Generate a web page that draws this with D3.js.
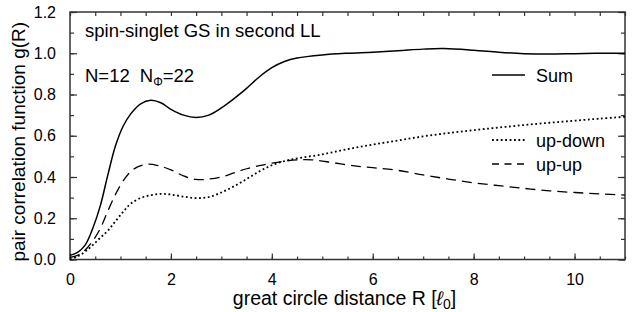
<!DOCTYPE html>
<html>
<head>
<meta charset="utf-8">
<script src="https://cdn.jsdelivr.net/npm/d3@7"></script>
<style>
  body { margin: 0; background: #fff; }
  svg { display: block; font-family: "Liberation Sans", Arial, sans-serif; }
</style>
</head>
<body>
<svg width="638" height="312"></svg>
<script>
// R values in units of l0, g(R)
const rSum = [0, 0.15, 0.3, 0.45, 0.6, 0.75, 0.9, 1.05, 1.2, 1.4, 1.6, 1.8, 2.0, 2.25, 2.5, 2.75, 3.0, 3.25, 3.5, 3.75, 4.0, 4.25, 4.5, 5.0, 5.5, 6.0, 6.5, 7.0, 7.4, 8.0, 8.5, 9.0, 9.5, 10, 10.5, 11];
const gSum = [0.02, 0.035, 0.07, 0.15, 0.26, 0.41, 0.55, 0.645, 0.705, 0.755, 0.772, 0.76, 0.728, 0.70, 0.689, 0.70, 0.735, 0.78, 0.83, 0.885, 0.93, 0.96, 0.977, 0.992, 1.0, 1.005, 1.012, 1.02, 1.023, 1.015, 1.005, 0.998, 0.996, 0.998, 1.0, 1.0];

const rUpUp = [0, 0.15, 0.3, 0.45, 0.6, 0.75, 0.9, 1.05, 1.2, 1.35, 1.55, 1.75, 2.0, 2.25, 2.5, 2.75, 3.0, 3.25, 3.5, 3.75, 4.0, 4.25, 4.5, 4.8, 5.2, 5.6, 6.0, 6.5, 7.0, 7.5, 8.0, 8.5, 9.0, 9.5, 10, 10.5, 11];
const gUpUp = [0.01, 0.02, 0.046, 0.09, 0.15, 0.235, 0.315, 0.38, 0.425, 0.45, 0.462, 0.455, 0.435, 0.405, 0.388, 0.39, 0.40, 0.42, 0.44, 0.455, 0.467, 0.477, 0.483, 0.483, 0.47, 0.455, 0.445, 0.432, 0.41, 0.39, 0.372, 0.358, 0.345, 0.333, 0.325, 0.318, 0.312];

const rUpDown = [0, 0.15, 0.3, 0.45, 0.6, 0.75, 0.9, 1.05, 1.2, 1.4, 1.6, 1.8, 2.0, 2.25, 2.5, 2.75, 3.0, 3.25, 3.5, 3.75, 4.0, 4.25, 4.5, 5.0, 5.5, 6.0, 6.5, 7.0, 7.5, 8.0, 8.5, 9.0, 9.5, 10, 10.5, 11];
const gUpDown = [0.0, 0.015, 0.038, 0.07, 0.105, 0.14, 0.185, 0.23, 0.27, 0.298, 0.312, 0.318, 0.315, 0.305, 0.298, 0.303, 0.325, 0.355, 0.39, 0.427, 0.457, 0.477, 0.49, 0.51, 0.535, 0.557, 0.577, 0.597, 0.613, 0.627, 0.64, 0.652, 0.663, 0.673, 0.683, 0.692];

const seriesNames = ["Sum", "up-down", "up-up"];
const xTicks = [0, 2, 4, 6, 8, 10];
const yTicks = [0.0, 0.2, 0.4, 0.6, 0.8, 1.0, 1.2];

const svg = d3.select("svg");
const margin = {top: 12, right: 13, bottom: 52.5, left: 70};
const width = 638 - margin.left - margin.right;
const height = 312 - margin.top - margin.bottom;
const g = svg.append("g").attr("transform", `translate(${margin.left},${margin.top})`);

const x = d3.scaleLinear().domain([0, 11]).range([0, width]);
const y = d3.scaleLinear().domain([0, 1.2]).range([height, 0]);

const minorX = d3.range(0, 11.01, 0.5);
const minorY = d3.range(0, 1.201, 0.1);
const axisColor = "#333";

// ticks point inward on all four sides
function drawAxis(gen, tr, labels) {
  const a = g.append("g").attr("transform", tr).call(gen);
  a.select(".domain").remove();
  a.selectAll("line").attr("stroke", axisColor).attr("stroke-width", 1.2);
  a.selectAll("text").attr("fill", "#000").style("font-size", "16px");
  if (!labels) a.selectAll("text").remove();
  return a;
}
drawAxis(d3.axisBottom(x).tickValues(minorX).tickSize(-3).tickFormat(""), `translate(0,${height})`, false);
drawAxis(d3.axisBottom(x).tickValues(xTicks).tickSize(-6).tickPadding(14).tickFormat(d3.format("d")), `translate(0,${height})`, true);
drawAxis(d3.axisTop(x).tickValues(minorX).tickSize(-4).tickFormat(""), "translate(0,0)", false);
drawAxis(d3.axisLeft(y).tickValues(minorY).tickSize(-4).tickFormat(""), "translate(0,0)", false);
drawAxis(d3.axisLeft(y).tickValues(yTicks).tickSize(-7).tickPadding(14).tickFormat(d3.format(".1f")), "translate(0,0)", true);
drawAxis(d3.axisRight(y).tickValues(minorY).tickSize(-4).tickFormat(""), `translate(${width},0)`, false);
drawAxis(d3.axisRight(y).tickValues(yTicks).tickSize(-7).tickFormat(""), `translate(${width},0)`, false);

g.append("rect")
  .attr("width", width).attr("height", height)
  .attr("fill", "none").attr("stroke", axisColor).attr("stroke-width", 1.5);

const line = d3.line()
  .x(d => x(d[0])).y(d => y(d[1]))
  .curve(d3.curveCatmullRom.alpha(0.5));

const styles = {
  "Sum": {dash: null, width: 1.5, legendDash: null},
  "up-down": {dash: "1.8,2.6", width: 1.8, legendDash: "1.8,2.6"},
  "up-up": {dash: "10,6", width: 1.3, legendDash: "7,5.5"}
};
const series = [
  {name: "Sum", r: rSum, v: gSum},
  {name: "up-down", r: rUpDown, v: gUpDown},
  {name: "up-up", r: rUpUp, v: gUpUp}
];

series.forEach(s => {
  g.append("path")
    .datum(d3.zip(s.r, s.v))
    .attr("fill", "none")
    .attr("stroke", "#000")
    .attr("stroke-width", styles[s.name].width)
    .attr("stroke-dasharray", styles[s.name].dash)
    .attr("d", line);
});

// legend
const legendY = [75, 140, 164];
seriesNames.forEach((name, i) => {
  const st = styles[name];
  svg.append("line")
    .attr("x1", 492).attr("x2", 525)
    .attr("y1", legendY[i]).attr("y2", legendY[i])
    .attr("stroke", "#000").attr("stroke-width", st.width)
    .attr("stroke-dasharray", st.legendDash);
  svg.append("text")
    .attr("x", 536).attr("y", legendY[i] + 6.5)
    .style("font-size", "18px")
    .text(name);
});

// annotations
svg.append("text")
  .attr("x", 85).attr("y", 37)
  .style("font-size", "18.5px")
  .text("spin-singlet GS in second LL");

const nt = svg.append("text").attr("x", 85).attr("y", 82).style("font-size", "18.5px");
nt.append("tspan").text("N=12");
nt.append("tspan").attr("dx", 10).text("N");
nt.append("tspan").attr("dy", 4).style("font-size", "12px").text("Φ");
nt.append("tspan").attr("dy", -4).text("=22");

// axis titles
const xl = svg.append("text")
  .attr("x", margin.left + width / 2 - 3).attr("y", 305)
  .attr("text-anchor", "middle")
  .style("font-size", "19.5px");
xl.append("tspan").text("great circle distance R [");
xl.append("tspan").style("font-style", "italic").text("ℓ");
xl.append("tspan").attr("dy", 4).style("font-size", "14px").text("0");
xl.append("tspan").attr("dy", -4).text("]");

svg.append("text")
  .attr("transform", `translate(25,${margin.top + height / 2 + 6}) rotate(-90)`)
  .attr("text-anchor", "middle")
  .style("font-size", "19px")
  .text("pair correlation function g(R)");
</script>
</body>
</html>
